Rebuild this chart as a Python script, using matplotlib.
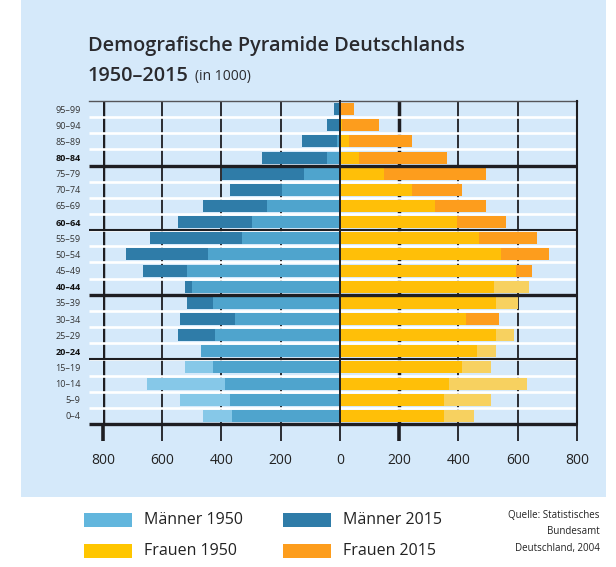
import numpy as np
import matplotlib
matplotlib.use("Agg")
import matplotlib.pyplot as plt
from matplotlib.patches import Rectangle

plt.rcParams['font.family'] = ['Open Sans', 'DejaVu Sans']

ages = ["0–4", "5–9", "10–14", "15–19", "20–24", "25–29", "30–34", "35–39",
        "40–44", "45–49", "50–54", "55–59", "60–64", "65–69", "70–74",
        "75–79", "80–84", "85–89", "90–94", "95–99"]
bold_ages = ["20–24", "40–44", "60–64", "80–84"]

# population in 1000 (bottom row first)
maenner_1950 = [464, 540, 650, 523, 470, 423, 355, 430, 498, 515,
                447, 330, 296, 245, 197, 120, 45, 11, 4, 2]
maenner_2015 = [363, 372, 389, 430, 468, 548, 540, 515, 523, 665,
                724, 640, 547, 464, 372, 399, 262, 128, 45, 20]
frauen_1950 = [452, 511, 630, 511, 528, 587, 427, 602, 639, 594,
               545, 470, 394, 319, 242, 149, 64, 31, 6, 3]
frauen_2015 = [352, 352, 368, 411, 462, 528, 537, 528, 520, 647,
               706, 664, 562, 494, 411, 494, 361, 242, 132, 48]

x_ticks = [-800, -600, -400, -200, 0, 200, 400, 600, 800]

BG = "#d5e9fa"
DARK = "#1e1e22"
# chart colours: only-1950, only-2015, overlap
M_COLS = ("#86c8e8", "#2f7ca8", "#4fa4cd")
F_COLS = ("#f7d160", "#fd9d1d", "#ffbf08")
LEGEND_COLS = {"Männer 1950": "#62b6dd", "Männer 2015": "#2f7ca8",
               "Frauen 1950": "#ffc600", "Frauen 2015": "#fd9d1d"}

fig = plt.figure(figsize=(6.16, 5.67), dpi=100)
fig.patches.append(Rectangle((21 / 616, 1 - 497 / 567), 585 / 616, 497 / 567,
                             transform=fig.transFigure, facecolor=BG,
                             edgecolor="none", zorder=-5))

ax = fig.add_axes([103 / 616, 1 - 424 / 567, 474 / 616, 323 / 567])
ax.set_facecolor("none")
ax.set_zorder(2)
ax.set_xlim(-800, 800)
ax.set_ylim(-0.5, 19.5)
for s in ax.spines.values():
    s.set_visible(False)

y = np.arange(len(ages))

# vertical grid lines (shown as dashes once the white row lines cross them)
for xv in x_ticks:
    if xv in (0, 800):
        continue
    lw = 2.5 if xv in (-800, 200) else 1.3
    ax.plot([xv, xv], [-0.5, 19.5], color=DARK, lw=lw, zorder=1,
            solid_capstyle="butt")

# white row separators
for yy in np.arange(0.5, 19, 1):
    ax.plot([-848, 800], [yy, yy], color="white", lw=1.9, zorder=2,
            clip_on=False, solid_capstyle="butt")


def draw_side(v1950, v2015, cols, sign):
    a = np.array(v1950)
    b = np.array(v2015)
    big = np.maximum(a, b)
    small = np.minimum(a, b)
    big_cols = [cols[0] if p >= q else cols[1] for p, q in zip(a, b)]
    ax.barh(y, sign * big, height=0.74, color=big_cols, zorder=3)
    ax.barh(y, sign * small, height=0.74, color=cols[2], zorder=4)


draw_side(maenner_1950, maenner_2015, M_COLS, -1)
draw_side(frauen_1950, frauen_2015, F_COLS, 1)

# group lines
for yy, lw in [(-0.5, 2.4), (3.5, 1.5), (7.5, 2.4), (11.5, 1.5), (15.5, 2.4)]:
    ax.plot([-848, 800], [yy, yy], color=DARK, lw=lw, zorder=6, clip_on=False,
            solid_capstyle="butt")
ax.plot([-848, 800], [19.5, 19.5], color="#555559", lw=1.0, zorder=6,
        clip_on=False)
ax.plot([800, 800], [-0.5, 19.5], color=DARK, lw=1.5, zorder=6, clip_on=False)
ax.plot([0, 0], [-0.5, 19.5], color=DARK, lw=1.4, zorder=6, clip_on=False)

# axes ticks
ax.set_xticks(x_ticks)
ax.set_xticklabels([str(abs(v)) for v in x_ticks], fontsize=10, color="#222")
ax.tick_params(axis="x", direction="out", length=12, width=1.3, color=DARK,
               pad=9)
for tick, xv in zip(ax.xaxis.get_major_ticks(), x_ticks):
    if xv in (-800, 200):
        tick.tick1line.set_markeredgewidth(2.6)
ax.set_yticks(y)
ax.set_yticklabels(ages, fontsize=6.5, color="#333")
ax.tick_params(axis="y", length=0, pad=16)
for lab in ax.get_yticklabels():
    if lab.get_text() in bold_ages:
        lab.set_fontweight("bold")
        lab.set_color("#111")

# title
t1 = fig.text(88 / 616, 1 - 46 / 567, "Demografische Pyramide Deutschlands",
              fontsize=14.3, fontweight="semibold", color="#2a2a2e",
              va="center")
t2 = fig.text(88 / 616, 1 - 76 / 567, "1950–2015", fontsize=14.3,
              fontweight="semibold", color="#2a2a2e", va="center")
fig.canvas.draw()
bb = t2.get_window_extent(fig.canvas.get_renderer())
fig.text((bb.x1 + 6) / 616, 1 - 77 / 567, "(in 1000)", fontsize=10,
         color="#2a2a2e", va="center")

# legend
legend_items = [("Männer 1950", 84, 520), ("Männer 2015", 283, 520),
                ("Frauen 1950", 84, 551), ("Frauen 2015", 283, 551)]
for name, px, py in legend_items:
    fig.patches.append(Rectangle((px / 616, 1 - (py + 7) / 567), 48 / 616,
                                 14 / 567, transform=fig.transFigure,
                                 facecolor=LEGEND_COLS[name], edgecolor="none"))
    fig.text((px + 60) / 616, 1 - py / 567, name, fontsize=11.5, color="#222",
             va="center")

fig.text(600 / 616, 1 - 532 / 567,
         "Quelle: Statistisches\nBundesamt\nDeutschland, 2004",
         fontsize=7, color="#222", ha="right", va="center", linespacing=1.7)

fig.savefig("out.png", dpi=100, facecolor="white")
plt.close(fig)
